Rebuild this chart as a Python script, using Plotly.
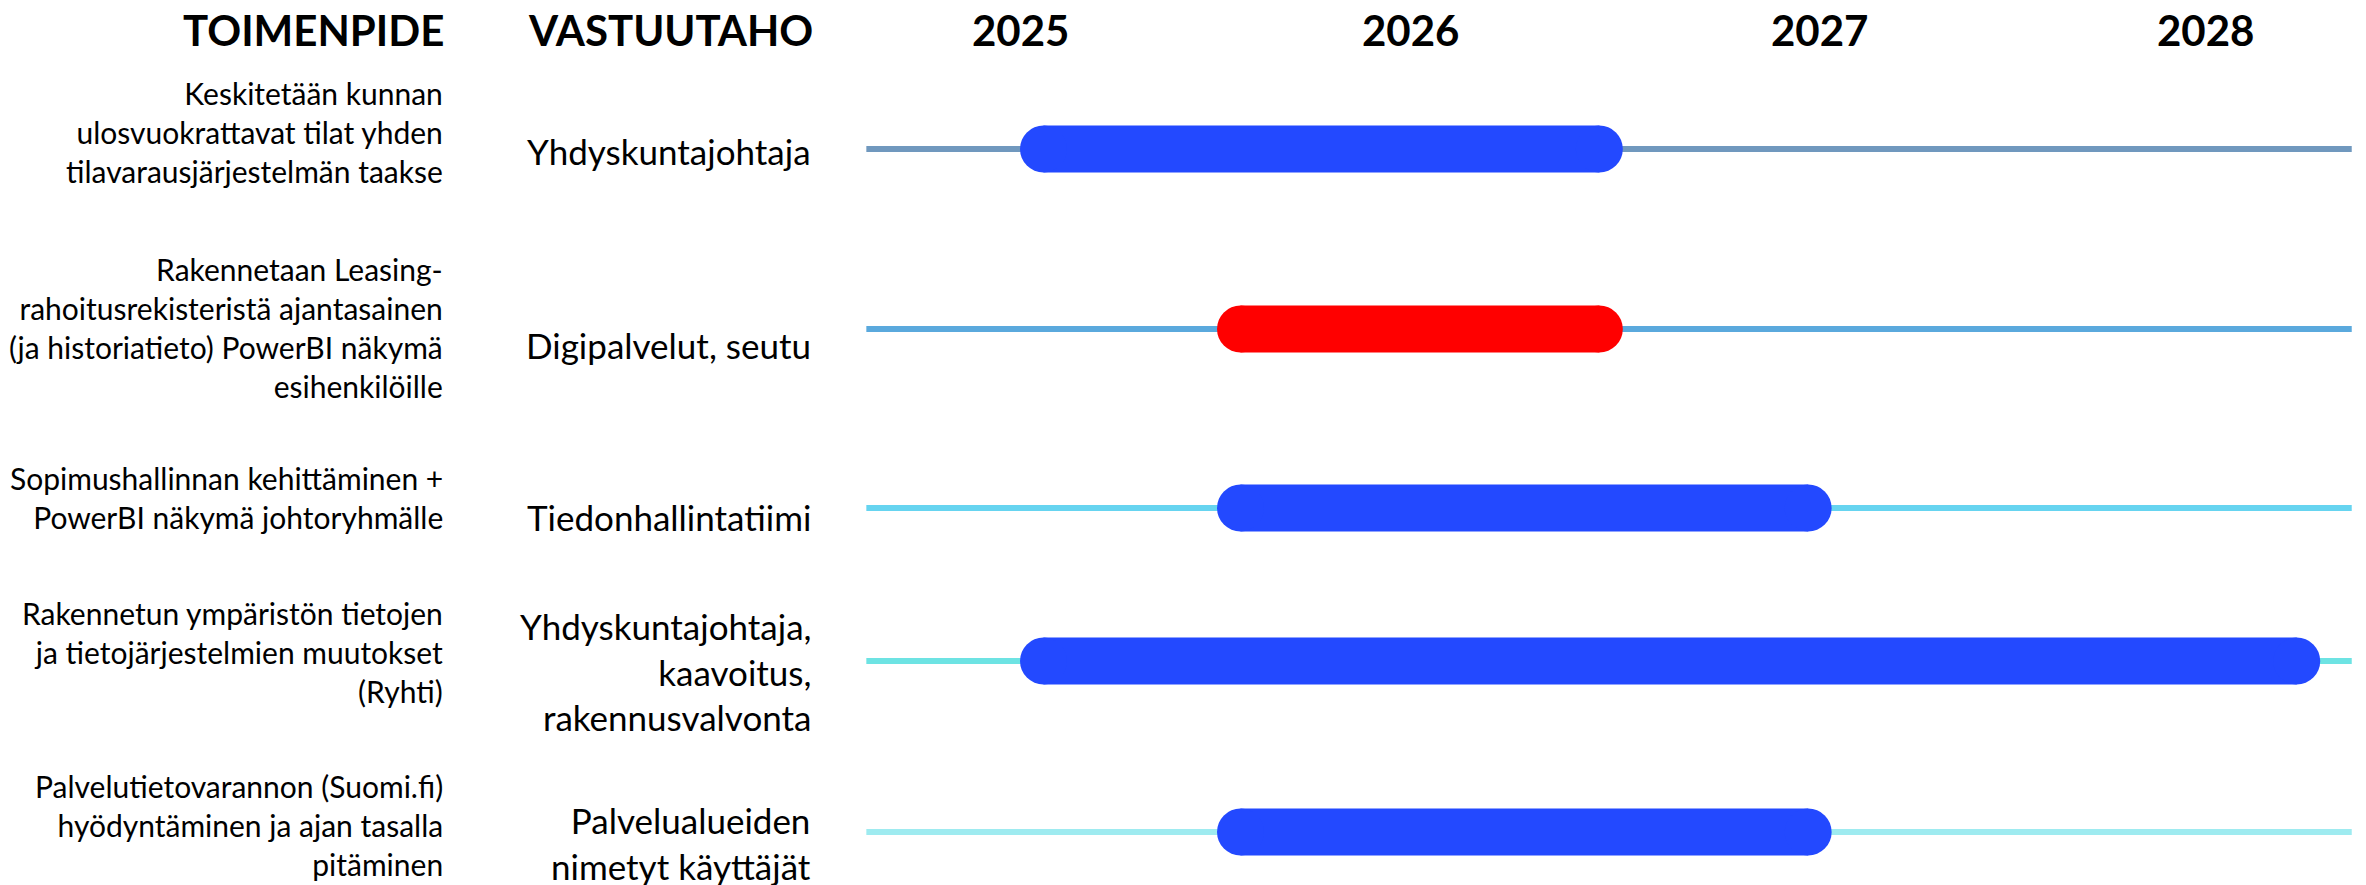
import plotly.graph_objects as go

# ---- data ----
toimenpide = [
    "Keskitetään kunnan<br>ulosvuokrattavat tilat yhden<br>tilavarausjärjestelmän taakse",
    "Rakennetaan Leasing-<br>rahoitusrekisteristä ajantasainen<br>(ja historiatieto) PowerBI näkymä<br>esihenkilöille",
    "Sopimushallinnan kehittäminen +<br>PowerBI näkymä johtoryhmälle",
    "Rakennetun ympäristön tietojen<br>ja tietojärjestelmien muutokset<br>(Ryhti)",
    "Palvelutietovarannon (Suomi.fi)<br>hyödyntäminen ja ajan tasalla<br>pitäminen",
]
vastuutaho = [
    "Yhdyskuntajohtaja",
    "Digipalvelut, seutu",
    "Tiedonhallintatiimi",
    "Yhdyskuntajohtaja,<br>kaavoitus,<br>rakennusvalvonta",
    "Palvelualueiden<br>nimetyt käyttäjät",
]
bar_start = [2025.0, 2025.5, 2025.5, 2025.0, 2025.5]
bar_end = [2026.53, 2026.53, 2027.06, 2028.30, 2027.06]
bar_color = ["#2349FF", "#FF0000", "#2349FF", "#2349FF", "#2349FF"]
timeline_start = 2024.61
timeline_end = 2028.38
line_color = ["#7098BE", "#5AA9DD", "#66D4F0", "#6DE3E3", "#9EEBF0"]
year_labels = ["2025", "2026", "2027", "2028"]
year_pos = [2025.0, 2025.99, 2027.03, 2028.01]
headers = ["TOIMENPIDE", "VASTUUTAHO"]

# ---- layout constants ----
W, H = 2366, 885
X_MIN, X_MAX = 2022.4112, 2028.4162
row_y = [149, 329, 508, 661, 832]          # pixel rows of the timelines
left_text_dy = [-17, -2, -11, -9, -7]
right_text_dy = [2, 16, 9, 10, 11]
BAR_W = 47
LINE_W = 6
FONT = "Lato, DejaVu Sans Condensed, sans-serif"

px_per_year = W / (X_MAX - X_MIN)
r_year = (BAR_W / 2) / px_per_year

fig = go.Figure()

for i, y in enumerate(row_y):
    fig.add_trace(go.Scatter(
        x=[timeline_start, timeline_end], y=[y, y], mode="lines",
        line=dict(color=line_color[i], width=LINE_W),
        hoverinfo="skip", showlegend=False))

for i, y in enumerate(row_y):
    x0 = bar_start[i] + r_year
    x1 = bar_end[i] - r_year
    fig.add_trace(go.Scatter(
        x=[x0, x1], y=[y, y], mode="lines+markers",
        line=dict(color=bar_color[i], width=BAR_W),
        marker=dict(color=bar_color[i], size=BAR_W, line=dict(width=0)),
        hoverinfo="skip", showlegend=False))

ann = []
for i, y in enumerate(row_y):
    ann.append(dict(x=445 / W, xref="paper", xanchor="right", y=y + left_text_dy[i], yref="y",
                    yanchor="middle", text=toimenpide[i], showarrow=False, align="right",
                    font=dict(family=FONT, size=30, color="#000000")))
    ann.append(dict(x=813 / W, xref="paper", xanchor="right", y=y + right_text_dy[i], yref="y",
                    yanchor="middle", text=vastuutaho[i], showarrow=False, align="right",
                    font=dict(family=FONT, size=35, color="#000000")))

HDR = 42
ann.append(dict(x=446 / W, xref="paper", xanchor="right", y=30, yref="y", yanchor="middle",
                text="<b>" + headers[0] + "</b>", showarrow=False,
                font=dict(family=FONT, size=HDR, color="#000000")))
ann.append(dict(x=815 / W, xref="paper", xanchor="right", y=30, yref="y", yanchor="middle",
                text="<b>" + headers[1] + "</b>", showarrow=False,
                font=dict(family=FONT, size=HDR, color="#000000")))
for lab, xp in zip(year_labels, year_pos):
    ann.append(dict(x=xp, xref="x", xanchor="center", y=30, yref="y", yanchor="middle",
                    text="<b>" + lab + "</b>", showarrow=False,
                    font=dict(family=FONT, size=HDR, color="#000000")))

fig.update_layout(
    width=W, height=H,
    margin=dict(l=0, r=0, t=0, b=0),
    paper_bgcolor="white", plot_bgcolor="white",
    xaxis=dict(range=[X_MIN, X_MAX], visible=False, fixedrange=True),
    yaxis=dict(range=[H, 0], visible=False, fixedrange=True),
    annotations=ann,
    showlegend=False,
)

fig.write_html("out.html", config={"displayModeBar": False},
               post_script="document.body.style.margin='0px';document.body.style.overflow='hidden';")
